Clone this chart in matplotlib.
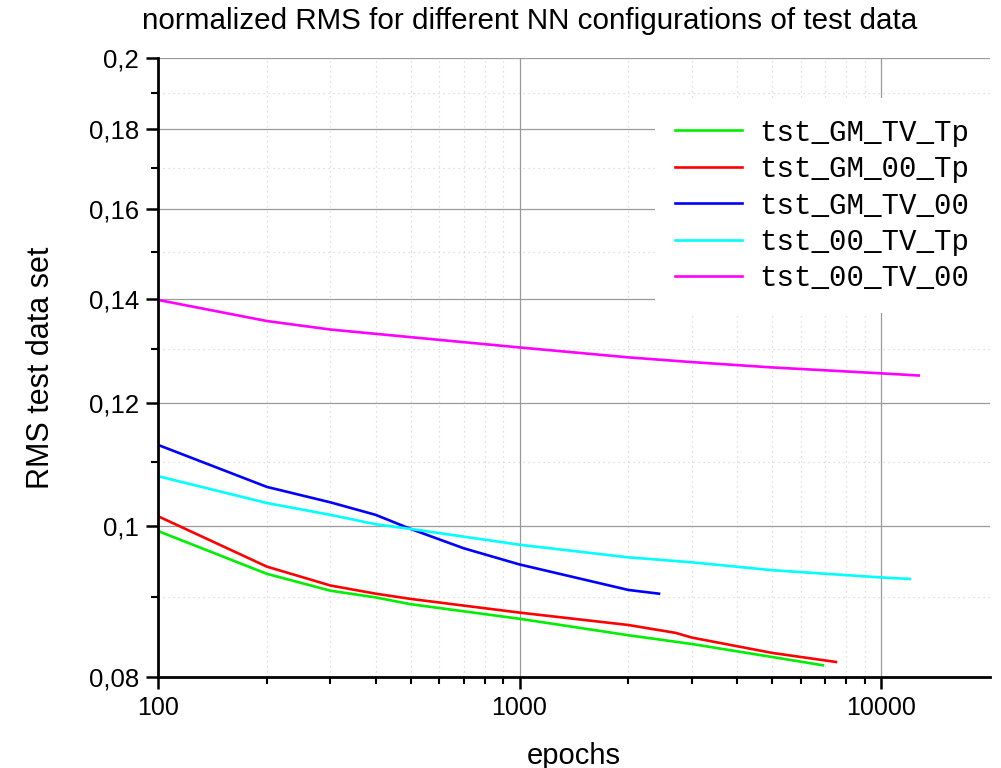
import matplotlib
matplotlib.use('Agg')
import matplotlib.pyplot as plt
from matplotlib.ticker import FixedLocator, NullFormatter, FixedFormatter

# Daten
ep_gm_tv_tp = [100, 200, 300, 400, 500, 1000, 2000, 3000, 5000, 6900]
rms_gm_tv_tp = [0.0993, 0.0932, 0.0909, 0.0900, 0.0891, 0.0872, 0.0851, 0.0840, 0.0824, 0.0814]

ep_gm_00_tp = [100, 200, 300, 400, 500, 1000, 2000, 2700, 3000, 5000, 7500]
rms_gm_00_tp = [0.1015, 0.0942, 0.0916, 0.0905, 0.0898, 0.0880, 0.0864, 0.0854, 0.0848, 0.0829, 0.0818]

ep_gm_tv_00 = [100, 200, 300, 400, 500, 700, 1000, 2000, 2430]
rms_gm_tv_00 = [0.1128, 0.1060, 0.1036, 0.1017, 0.0996, 0.0968, 0.0945, 0.0910, 0.0905]

ep_00_tv_tp = [100, 200, 300, 400, 500, 1000, 2000, 3000, 5000, 10000, 12000]
rms_00_tv_tp = [0.1077, 0.1035, 0.1017, 0.1003, 0.0996, 0.0973, 0.0955, 0.0948, 0.0937, 0.0927, 0.0925]

ep_00_tv_00 = [100, 200, 300, 500, 1000, 2000, 3000, 5000, 10000, 12700]
rms_00_tv_00 = [0.1398, 0.1355, 0.1338, 0.1323, 0.1303, 0.1284, 0.1275, 0.1265, 0.1254, 0.1250]

series = [
    ("tst_GM_TV_Tp", ep_gm_tv_tp, rms_gm_tv_tp, "#00ee00"),
    ("tst_GM_00_Tp", ep_gm_00_tp, rms_gm_00_tp, "#ff0000"),
    ("tst_GM_TV_00", ep_gm_tv_00, rms_gm_tv_00, "#0000ff"),
    ("tst_00_TV_Tp", ep_00_tv_tp, rms_00_tv_tp, "#00ffff"),
    ("tst_00_TV_00", ep_00_tv_00, rms_00_tv_00, "#ff00ff"),
]

y_major = [0.08, 0.1, 0.12, 0.14, 0.16, 0.18, 0.2]
y_major_labels = ["0,08", "0,1", "0,12", "0,14", "0,16", "0,18", "0,2"]
y_minor = [0.09, 0.11, 0.13, 0.15, 0.17, 0.19]
x_major = [100, 1000, 10000]
x_major_labels = ["100", "1000", "10000"]
x_minor = [200, 300, 400, 500, 600, 700, 800, 900,
           2000, 3000, 4000, 5000, 6000, 7000, 8000, 9000]

plt.rcParams['font.family'] = ['Liberation Sans', 'DejaVu Sans']

fig = plt.figure(figsize=(10.01, 7.68), dpi=100)
ax = fig.add_axes([0.1578, 0.1185, 0.989 - 0.1578, 0.9245 - 0.1185])

for label, x, y, c in series:
    ax.plot(x, y, color=c, lw=1.9, label=label, solid_joinstyle='round')

ax.set_xscale('log')
ax.set_yscale('log')
ax.set_xlim(100, 20000)
ax.set_ylim(0.08, 0.2)

ax.xaxis.set_major_locator(FixedLocator(x_major))
ax.xaxis.set_major_formatter(FixedFormatter(x_major_labels))
ax.xaxis.set_minor_locator(FixedLocator(x_minor))
ax.xaxis.set_minor_formatter(NullFormatter())
ax.yaxis.set_major_locator(FixedLocator(y_major))
ax.yaxis.set_major_formatter(FixedFormatter(y_major_labels))
ax.yaxis.set_minor_locator(FixedLocator(y_minor))
ax.yaxis.set_minor_formatter(NullFormatter())

# Gitter
ax.grid(which='major', color='#9a9a9a', lw=0.9, ls='-')
ax.grid(which='minor', color='#d5d5d5', lw=0.9, ls=(0, (1, 3)))
ax.set_axisbelow(True)

for s in ['top', 'right']:
    ax.spines[s].set_visible(False)
for s in ['left', 'bottom']:
    ax.spines[s].set_linewidth(2.0)

ax.tick_params(which='major', direction='out', length=8.5, width=1.8, labelsize=18, pad=5)
ax.tick_params(axis='y', which='major', labelsize=18.5)
ax.tick_params(which='minor', direction='out', length=5, width=1.5)

ax.set_xlabel("epochs", fontsize=21, labelpad=16)
ax.set_ylabel("RMS test data set", fontsize=22, labelpad=24)
fig.text(530 / 1001, 1 - 21 / 768, "normalized RMS for different NN configurations of test data",
         fontsize=21.3, ha='center', va='center')

leg = ax.legend(loc='upper right', bbox_to_anchor=(1.0, 0.935), borderaxespad=0,
                prop={'family': 'Liberation Mono', 'size': 21},
                handlelength=2.3, handletextpad=0.6, labelspacing=0.29,
                frameon=True, fancybox=False, borderpad=0.7)
leg.get_frame().set_facecolor('white')
leg.get_frame().set_edgecolor('none')
leg.get_frame().set_alpha(1.0)

fig.savefig("out.png", dpi=100)
